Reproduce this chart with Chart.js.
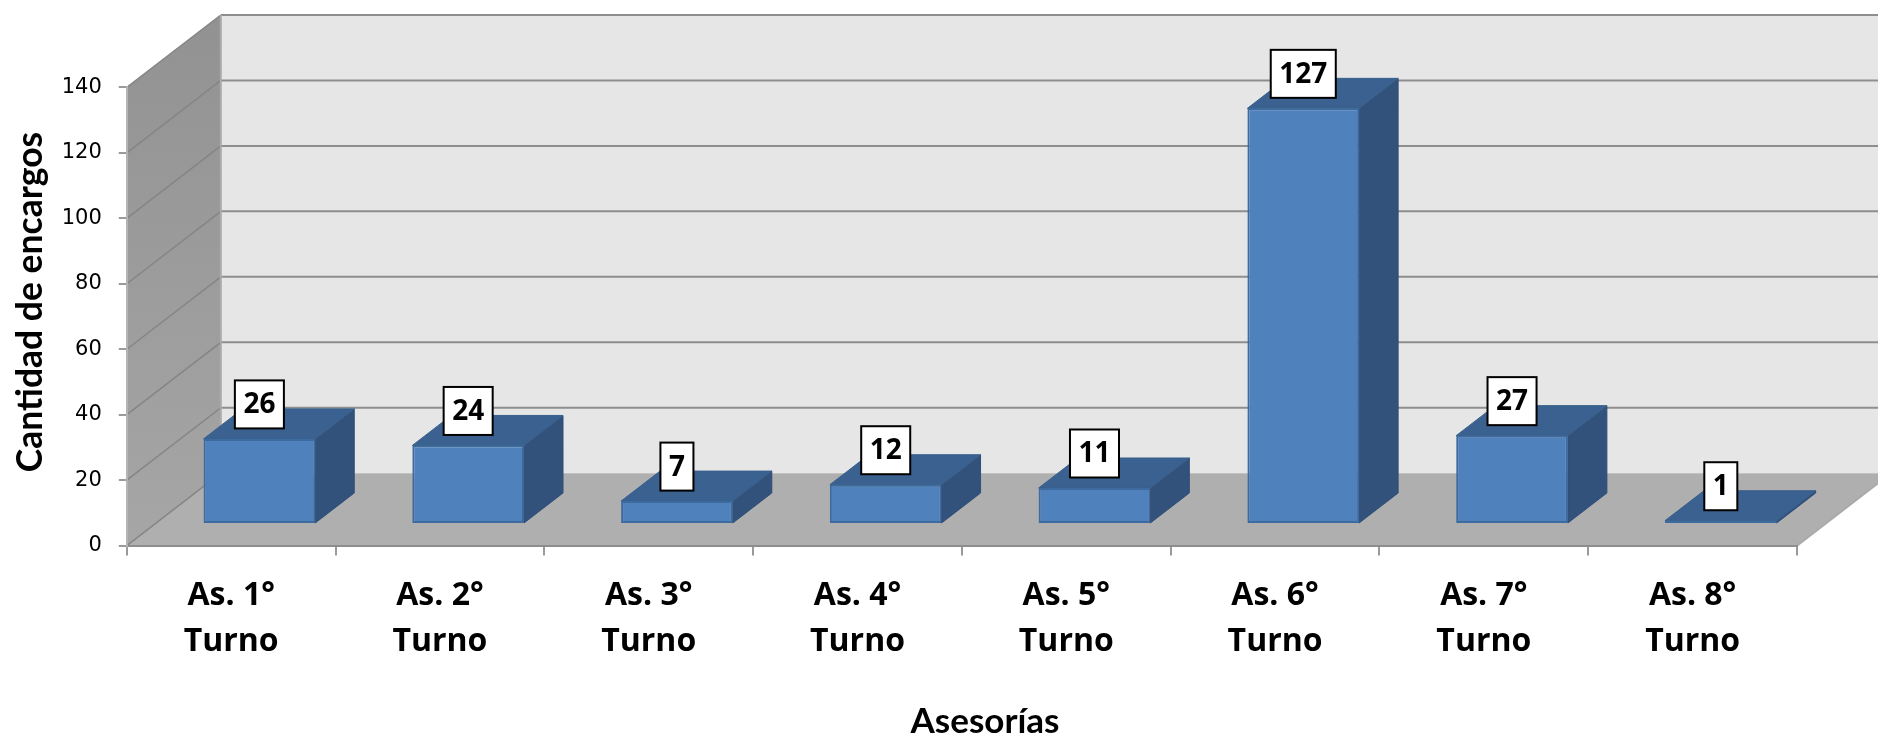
<!DOCTYPE html>
<html lang="es">
<head>
    <meta charset="UTF-8">
    <title>Cantidad de encargos</title>
    <script src="https://cdn.jsdelivr.net/npm/chart.js"></script>
    <style>
        html, body { margin: 0; padding: 0; background: #fff; }
        #wrap { width: 1878px; height: 736px; }
    </style>
</head>
<body>
    <div id="wrap"><canvas id="encargosChart"></canvas></div>
    <script>
        const categories = [['As. 1°', 'Turno'], ['As. 2°', 'Turno'], ['As. 3°', 'Turno'], ['As. 4°', 'Turno'],
                            ['As. 5°', 'Turno'], ['As. 6°', 'Turno'], ['As. 7°', 'Turno'], ['As. 8°', 'Turno']];
        const encargos = [26, 24, 7, 12, 11, 127, 27, 1];
        const yTitle = 'Cantidad de encargos';
        const xTitle = 'Asesorías';

        // 3D look: how far the walls and the bars go into the picture
        const wall = { dx: 94, dy: -72.4 };
        const barShift = { dx: 28.2, dy: -21.6 };
        const barDepth = { dx: 39, dy: -30 };

        function poly(ctx, pts, fill, stroke) {
            ctx.beginPath();
            pts.forEach((p, i) => i ? ctx.lineTo(p[0], p[1]) : ctx.moveTo(p[0], p[1]));
            ctx.closePath();
            ctx.fillStyle = fill;
            ctx.fill();
            if (stroke) {
                ctx.strokeStyle = stroke;
                ctx.lineWidth = 1;
                ctx.stroke();
            }
        }

        const fake3d = {
            id: 'fake3d',
            beforeDraw(chart) {
                const { ctx } = chart;
                const { left, right } = chart.chartArea;
                const y = chart.scales.y;
                const y0 = y.getPixelForValue(0);
                const yTop = y.getPixelForValue(140);
                const bx = left + wall.dx;
                ctx.save();
                // back wall, side wall, floor
                poly(ctx, [[bx, yTop + wall.dy], [1878, yTop + wall.dy], [1878, y0 + wall.dy], [bx, y0 + wall.dy]], '#e6e6e6');
                const sideFill = ctx.createLinearGradient(0, yTop + wall.dy, 0, y0);
                sideFill.addColorStop(0, '#929292');
                sideFill.addColorStop(1, '#a6a6a6');
                poly(ctx, [[left, yTop], [bx, yTop + wall.dy], [bx, y0 + wall.dy], [left, y0]], sideFill);
                poly(ctx, [[left, y0], [bx, y0 + wall.dy], [right + wall.dx, y0 + wall.dy], [right, y0]], '#afafaf');
                // grid lines run along the side wall and then the back wall
                y.ticks.forEach(t => {
                    const py = y.getPixelForValue(t.value);
                    ctx.beginPath();
                    ctx.moveTo(left, py);
                    ctx.lineTo(bx, py + wall.dy);
                    ctx.strokeStyle = '#858585';
                    ctx.lineWidth = 1.5;
                    ctx.stroke();
                    if (t.value > 0) {
                        ctx.beginPath();
                        ctx.moveTo(bx, py + wall.dy);
                        ctx.lineTo(1878, py + wall.dy);
                        ctx.strokeStyle = '#8e8e8e';
                        ctx.lineWidth = 2;
                        ctx.stroke();
                    }
                });
                ctx.beginPath();
                ctx.moveTo(bx, yTop + wall.dy);
                ctx.lineTo(bx, y0 + wall.dy);
                ctx.moveTo(right, y0);
                ctx.lineTo(right + wall.dx, y0 + wall.dy);
                ctx.strokeStyle = '#aaaaaa';
                ctx.lineWidth = 2;
                ctx.stroke();
                ctx.restore();
            },
            beforeDatasetsDraw(chart) {
                const { ctx } = chart;
                ctx.save();
                ctx.translate(barShift.dx, barShift.dy);
                chart.getDatasetMeta(0).data.forEach(bar => {
                    const l = bar.x - bar.width / 2;
                    const r = bar.x + bar.width / 2;
                    const d = barDepth;
                    poly(ctx, [[r, bar.y], [r + d.dx, bar.y + d.dy], [r + d.dx, bar.base + d.dy], [r, bar.base]], '#32527c', '#2f4f78');
                    poly(ctx, [[l, bar.y], [l + d.dx, bar.y + d.dy], [r + d.dx, bar.y + d.dy], [r, bar.y]], '#3a618f', '#37608c');
                });
            },
            afterDatasetsDraw(chart) {
                const { ctx } = chart;
                ctx.restore();
                ctx.save();
                // value boxes
                ctx.font = 'bold 28px "Open Sans"';
                ctx.textAlign = 'center';
                ctx.textBaseline = 'middle';
                chart.getDatasetMeta(0).data.forEach((bar, i) => {
                    const txt = String(encargos[i]);
                    const w = ctx.measureText(txt).width + 17;
                    const h = 48;
                    const cx = bar.x + barShift.dx;
                    const cy = bar.y + barShift.dy - 34.5;
                    ctx.fillStyle = '#fff';
                    ctx.fillRect(cx - w / 2, cy - h / 2, w, h);
                    ctx.strokeStyle = '#000';
                    ctx.lineWidth = 2;
                    ctx.strokeRect(cx - w / 2, cy - h / 2, w, h);
                    ctx.fillStyle = '#000';
                    ctx.fillText(txt, cx, cy + 1);
                });
                // axis titles sit off centre in the original, so they are placed here
                ctx.font = 'bold 35px Lato';
                ctx.fillText(xTitle, 985, 722);
                ctx.translate(31, 302);
                ctx.rotate(-Math.PI / 2);
                ctx.font = 'bold 35.5px Lato';
                ctx.fillText(yTitle, 0, 0);
                ctx.restore();
            }
        };

        new Chart(document.getElementById('encargosChart'), {
            type: 'bar',
            data: {
                labels: categories,
                datasets: [{
                    data: encargos,
                    backgroundColor: '#4f81bd',
                    borderColor: '#3d6b9f',
                    borderWidth: 2,
                    borderSkipped: false,
                    barPercentage: 0.535,
                    categoryPercentage: 1
                }]
            },
            options: {
                responsive: true,
                maintainAspectRatio: false,
                animation: false,
                layout: { padding: { top: 87.4, right: 81 } },
                plugins: { legend: { display: false }, tooltip: { enabled: false } },
                scales: {
                    x: {
                        afterFit: s => { s.height = 190.4; },
                        border: { color: '#8e8e8e', width: 2 },
                        grid: { drawOnChartArea: false, color: '#9a9a9a', lineWidth: 2, tickLength: 10 },
                        ticks: {
                            color: '#000',
                            padding: 18,
                            maxRotation: 0,
                            autoSkip: false,
                            font: { family: '"Open Sans"', size: 32, weight: 'bold', lineHeight: 1.42 }
                        }
                    },
                    y: {
                        min: 0,
                        max: 140,
                        afterFit: s => { s.width = 126.8; },
                        border: { color: '#b4b4b4', width: 2 },
                        grid: { drawOnChartArea: false, color: '#9a9a9a', lineWidth: 2, tickLength: 8 },
                        ticks: {
                            stepSize: 20,
                            color: '#000',
                            padding: 17,
                            font: { family: '"DejaVu Sans"', size: 21 }
                        }
                    }
                }
            },
            plugins: [fake3d]
        });
    </script>
</body>
</html>
